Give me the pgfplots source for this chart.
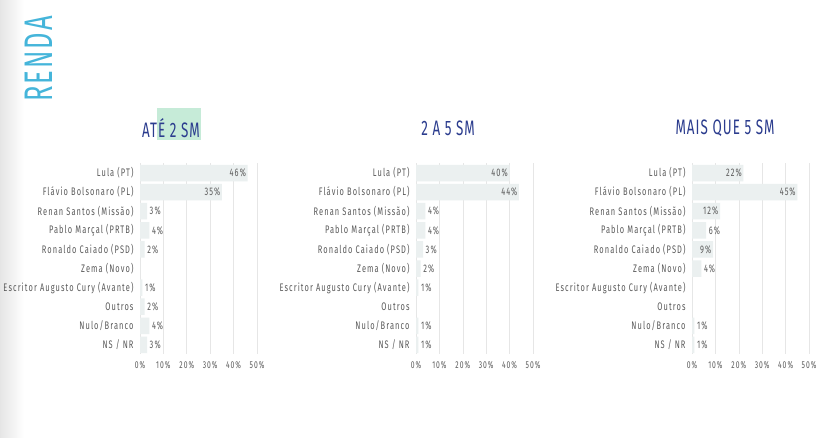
\documentclass[border=0pt]{standalone}
\usepackage{pgfplots}
\pgfplotsset{compat=1.18}
\usepackage{pgfplotstable}
\usepackage{fontspec}
\setmainfont{Fira Sans}[FakeStretch=0.68, LetterSpace=10]
\newfontfamily\titlefont{Fira Sans}[FakeStretch=0.64, LetterSpace=5]
\definecolor{barc}{HTML}{EBF0F0}
\definecolor{labc}{HTML}{5A5A5A}
\definecolor{gridc}{HTML}{E6E6E6}
\definecolor{titc}{HTML}{2B3C8E}
\definecolor{rendac}{HTML}{45B5DA}
\definecolor{hlc}{HTML}{C6EBD8}

\pgfplotstableread{
y v
0 46
1 35
2 3
3 4
4 2
5 0
6 1
7 2
8 4
9 3
}\tabA
\pgfplotstableread{
y v
0 40
1 44
2 4
3 4
4 3
5 2
6 1
7 0
8 1
9 1
}\tabB
\pgfplotstableread{
y v
0 22
1 45
2 12
3 6
4 9
5 4
6 0
7 0
8 1
9 1
}\tabC

\pgfplotsset{
  panel/.style={
    anchor=south west,
    width=117bp, height=191bp, scale only axis,
    xmin=0, xmax=50, ymin=-0.5, ymax=9.5, y dir=reverse,
    enlargelimits=false, clip=false,
    axis line style={draw=none}, major tick style={draw=none},
    xmajorgrids, grid style={gridc, line width=0.6bp},
    xtick={0,10,...,50},
    xticklabel={\pgfmathprintnumber{\tick}\%},
    /pgf/number format/assume math mode=true,
    xticklabel style={font=\fontsize{10}{11}\selectfont, text=labc, yshift=-3.5bp},
    ytick={0,...,9},
    yticklabels={Lula (PT), Flávio Bolsonaro (PL), Renan Santos (Missão), Pablo Marçal (PRTB), Ronaldo Caiado (PSD), Zema (Novo), Escritor Augusto Cury (Avante), Outros, Nulo/Branco, NS / NR},
    yticklabel style={font=\fontsize{11}{12}\selectfont, text=labc, xshift=-3bp},
  },
  bars/.style={xbar, bar shift=0pt, bar width=16.5bp, fill=barc, draw=none},
  inlab/.style={draw=none, mark=none, restrict x to domain=8.5:100,
    point meta=x, nodes near coords={\pgfmathprintnumber{\pgfplotspointmeta}\%},
    nodes near coords style={anchor=east, font=\fontsize{11}{12}\selectfont, text=labc, inner sep=0pt, xshift=-1.5bp}},
  outlab/.style={draw=none, mark=none, restrict x to domain=0.5:8.5,
    point meta=x, nodes near coords={\pgfmathprintnumber{\pgfplotspointmeta}\%},
    nodes near coords style={anchor=west, font=\fontsize{11}{12}\selectfont, text=labc, inner sep=0pt, xshift=2.5bp}},
}

\begin{document}
\begin{tikzpicture}[x=1bp, y=1bp]
\fill[white] (0,0) rectangle (837,438);
\shade[left color=black!10, right color=white] (0,0) rectangle (24,438);
\node[rotate=90, text=rendac, font=\titlefont\fontsize{40}{42}\selectfont, inner sep=0pt] at (39,379) {RENDA};
\fill[hlc] (157,298) rectangle (201,330);
\node[text=titc, font=\titlefont\fontsize{21}{22}\selectfont, inner sep=0pt] at (171,310) {ATÉ 2 SM};
\node[text=titc, font=\titlefont\fontsize{21}{22}\selectfont, inner sep=0pt] at (448,310) {2 A 5 SM};
\node[text=titc, font=\titlefont\fontsize{21}{22}\selectfont, inner sep=0pt] at (725,310) {MAIS QUE 5 SM};

\begin{axis}[panel, at={(140bp,83.5bp)}]
\addplot[bars] table[x=v, y=y] {\tabA};
\addplot[inlab] table[x=v, y=y] {\tabA};
\addplot[outlab] table[x=v, y=y] {\tabA};
\end{axis}
\begin{axis}[panel, at={(416bp,83.5bp)}]
\addplot[bars] table[x=v, y=y] {\tabB};
\addplot[inlab] table[x=v, y=y] {\tabB};
\addplot[outlab] table[x=v, y=y] {\tabB};
\end{axis}
\begin{axis}[panel, at={(692bp,83.5bp)}]
\addplot[bars] table[x=v, y=y] {\tabC};
\addplot[inlab] table[x=v, y=y] {\tabC};
\addplot[outlab] table[x=v, y=y] {\tabC};
\end{axis}
\end{tikzpicture}
\end{document}
